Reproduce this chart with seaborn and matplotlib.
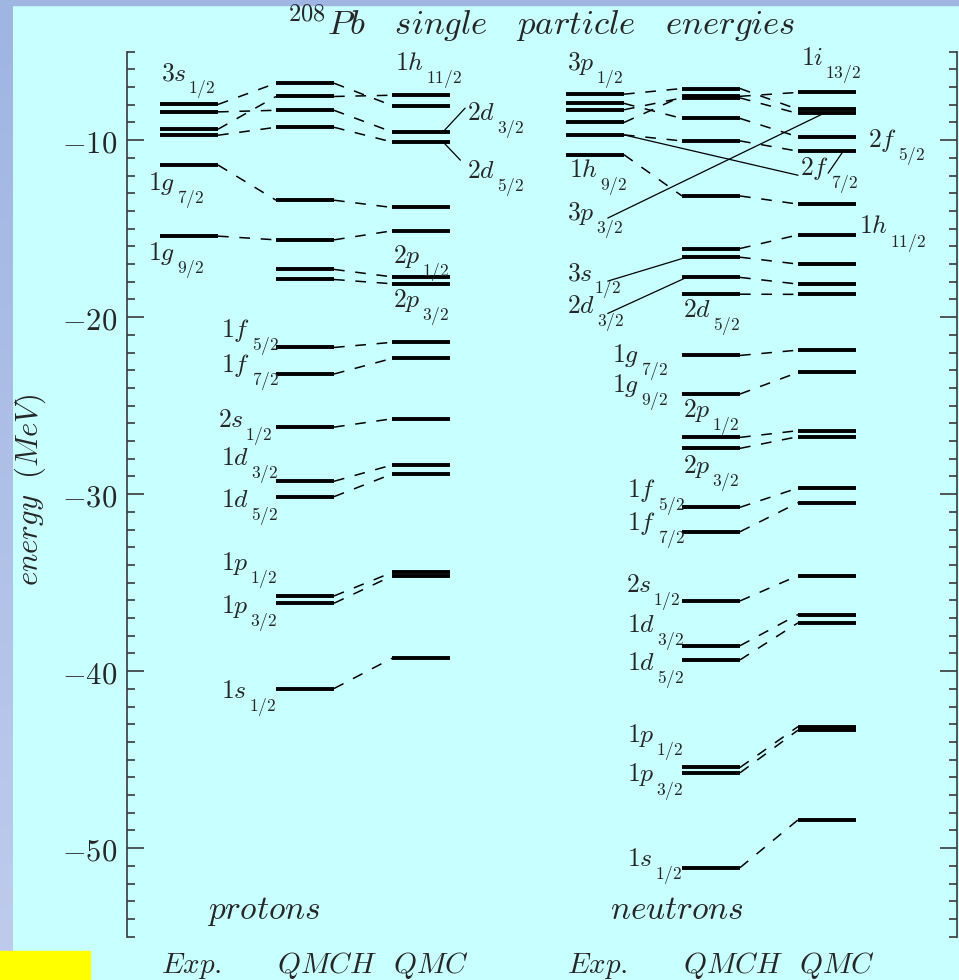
import numpy as np
import pandas as pd
import matplotlib
matplotlib.use("Agg")
import matplotlib.pyplot as plt
import seaborn as sns
from matplotlib.patches import Rectangle, Arc
from matplotlib.ticker import MultipleLocator, FuncFormatter

nan = np.nan

# ---------------------------------------------------------------- data (MeV)
methods = ["Exp.", "QMCH", "QMC"]

proton_orbitals = ["3s1/2", "2d3/2", "1h11/2", "2d5/2", "1g7/2", "1g9/2",
                   "2p1/2", "2p3/2", "1f5/2", "1f7/2", "2s1/2", "1d3/2",
                   "1d5/2", "1p1/2", "1p3/2", "1s1/2"]
proton_exp = [-7.98, -8.40, -9.38, -9.72, -11.40, -15.42,
              nan, nan, nan, nan, nan, nan, nan, nan, nan, nan]
proton_qmch = [-6.78, -8.31, -7.53, -9.27, -13.39, -15.63,
               -17.30, -17.87, -21.71, -23.21, -26.21, -29.27,
               -30.14, -35.75, -36.16, -40.98]
proton_qmc = [-8.04, -9.53, -7.46, -10.10, -13.80, -15.12,
              -17.72, -18.11, -21.42, -22.33, -25.74, -28.35,
              -28.86, -34.42, -34.62, -39.27]

neutron_orbitals = ["3p1/2", "2f5/2", "3p3/2", "1i13/2", "2f7/2", "1h9/2",
                    "1h11/2", "3s1/2", "2d3/2", "2d5/2", "1g7/2", "1g9/2",
                    "2p1/2", "2p3/2", "1f5/2", "1f7/2", "2s1/2", "1d3/2",
                    "1d5/2", "1p1/2", "1p3/2", "1s1/2"]
neutron_exp = [-7.40, -7.92, -8.28, -9.00, -9.70, -10.82,
               nan, nan, nan, nan, nan, nan, nan, nan, nan, nan,
               nan, nan, nan, nan, nan, nan]
neutron_qmch = [-7.08, -8.77, -7.61, -7.52, -10.04, -13.15,
                -16.12, -16.61, -17.75, -18.70, -22.16, -24.34,
                -26.79, -27.41, -30.74, -32.12, -36.03, -38.56,
                -39.36, -45.44, -45.74, -51.10]
neutron_qmc = [-8.26, -9.81, -8.49, -7.30, -10.62, -13.61,
               -15.35, -17.00, -18.13, -18.71, -21.86, -23.12,
               -26.41, -26.75, -29.65, -30.48, -34.60, -36.80,
               -37.27, -43.13, -43.33, -48.40]

# ---------------------------------------------------------------- layout
COL_STEP = 1.0          # distance between method columns
BAR_LEN = 0.5           # length of a level bar
NUCLEUS_OFFSET = {"protons": 0.0, "neutrons": 3.5}

# label anchors: (left x, baseline energy) of the orbital name
proton_label_xy = {
    "3s1/2": (0.01, -6.61), "1g7/2": (-0.10, -12.82), "1g9/2": (-0.10, -16.78),
    "1h11/2": (2.03, -6.05), "2d3/2": (2.65, -8.87), "2d5/2": (2.65, -12.15),
    "2p1/2": (2.01, -16.95), "2p3/2": (2.01, -19.43),
    "1f5/2": (0.53, -21.11), "1f7/2": (0.53, -23.08), "2s1/2": (0.50, -26.19),
    "1d3/2": (0.53, -28.35), "1d5/2": (0.53, -30.71), "1p1/2": (0.53, -34.28),
    "1p3/2": (0.53, -36.73), "1s1/2": (0.53, -41.52),
}
neutron_label_xy = {
    "3p1/2": (3.51, -6.05), "1h9/2": (3.53, -12.09), "3p3/2": (3.51, -14.52),
    "3s1/2": (3.51, -17.91), "2d3/2": (3.51, -19.77), "2d5/2": (4.51, -19.99),
    "1g7/2": (3.90, -22.52), "1g9/2": (3.90, -24.21),
    "2p1/2": (4.51, -25.62), "2p3/2": (4.51, -28.82),
    "1f5/2": (4.03, -30.14), "1f7/2": (4.03, -32.02), "2s1/2": (4.02, -35.50),
    "1d3/2": (4.03, -37.76), "1d5/2": (4.03, -39.93), "1p1/2": (4.03, -43.98),
    "1p3/2": (4.03, -46.23), "1s1/2": (4.03, -51.03),
    "1i13/2": (5.53, -5.77), "2f5/2": (6.10, -10.38), "2f7/2": (5.52, -11.98),
    "1h11/2": (6.03, -15.27),
}

# ---------------------------------------------------------------- tables
nuclei = {
    "protons": (proton_orbitals, [proton_exp, proton_qmch, proton_qmc]),
    "neutrons": (neutron_orbitals, [neutron_exp, neutron_qmch, neutron_qmc]),
}

bar_rows, link_rows = [], []
for nuc, (orbs, series) in nuclei.items():
    off = NUCLEUS_OFFSET[nuc]
    for j, orb in enumerate(orbs):
        for k, vals in enumerate(series):
            e = vals[j]
            if np.isnan(e):
                continue
            x0 = off + k * COL_STEP
            uid = f"{nuc}-{orb}-{k}"
            bar_rows += [(uid, x0, e), (uid, x0 + BAR_LEN, e)]
            if k + 1 < len(series) and not np.isnan(series[k + 1][j]):
                lid = f"{nuc}-{orb}-{k}-link"
                link_rows += [(lid, x0 + BAR_LEN, e),
                              (lid, x0 + COL_STEP, series[k + 1][j])]

bars = pd.DataFrame(bar_rows, columns=["uid", "x", "E"])
links = pd.DataFrame(link_rows, columns=["uid", "x", "E"])

p_qmc = dict(zip(proton_orbitals, proton_qmc))
n_exp = dict(zip(neutron_orbitals, neutron_exp))
n_qmch = dict(zip(neutron_orbitals, neutron_qmch))
n_qmc = dict(zip(neutron_orbitals, neutron_qmc))

# thin solid pointers from labels to their levels
pointer_rows = [
    ("p2d3", 2.44, p_qmc["2d3/2"]), ("p2d3", 2.63, -8.19),
    ("p2d5", 2.44, p_qmc["2d5/2"]), ("p2d5", 2.59, -11.13),
    ("n3p3", 3.86, -14.40), ("n3p3", 5.72, n_qmc["3p3/2"]),
    ("n2f7a", 4.00, n_exp["2f7/2"]), ("n2f7a", 5.50, -11.98),
    ("n2f7b", 5.76, -11.86), ("n2f7b", 5.89, n_qmc["2f7/2"]),
    ("n3s1", 3.86, -17.96), ("n3s1", 4.54, n_qmch["3s1/2"]),
    ("n2d3", 3.86, -19.79), ("n2d3", 4.54, n_qmch["2d3/2"]),
]
pointers = pd.DataFrame(pointer_rows, columns=["uid", "x", "E"])

# ---------------------------------------------------------------- figure
sns.set_style("ticks")
plt.rcParams["mathtext.fontset"] = "cm"
plt.rcParams["font.family"] = ["DejaVu Serif"]

W, H = 959, 980
fig = plt.figure(figsize=(W / 100, H / 100), dpi=100)

# page background: cyan sheet, blue frame strips, yellow corner tag
bg = fig.add_axes([0, 0, 1, 1], zorder=-10)
bg.axis("off")
bg.add_patch(Rectangle((0, 0), W, H, color="#c8ffff", zorder=0))
bg.add_patch(Rectangle((0, 0), W, 5, color="#9fb5e2", zorder=1))
top_c = np.array([159, 181, 226]) / 255
bot_c = np.array([190, 203, 236]) / 255
t = np.linspace(0, 1, 256)[:, None, None]
grad = top_c * (1 - t) + bot_c * t
bg.imshow(grad, extent=(0, 13, 951, 5), aspect="auto",
          interpolation="bilinear", zorder=2)
bg.add_patch(Rectangle((0, 951), 90, 29, color="#ffff00", zorder=3))
bg.add_patch(Arc((30, 990), 30, 26, theta1=20, theta2=160,
                 color="black", lw=2.2, zorder=4))
bg.set_xlim(0, W)
bg.set_ylim(H, 0)

# data axes
ax_left, ax_right, ax_top, ax_bot = 127, 956.7, 51.7, 936.7
ax = fig.add_axes([ax_left / W, (H - ax_bot) / H,
                   (ax_right - ax_left) / W, (ax_bot - ax_top) / H])
ax.set_facecolor("none")

sns.lineplot(data=bars, x="x", y="E", units="uid", estimator=None,
             color="black", lw=2.8, solid_capstyle="butt", ax=ax, legend=False)
sns.lineplot(data=links, x="x", y="E", units="uid", estimator=None,
             color="black", lw=1.1, linestyle=(0, (7, 7)), ax=ax, legend=False)
sns.lineplot(data=pointers, x="x", y="E", units="uid", estimator=None,
             sort=False, color="black", lw=0.9, ax=ax, legend=False)

px_to_x = lambda px: (px - 160) / 116
ax.set_xlim(px_to_x(ax_left), px_to_x(ax_right))
ax.set_ylim(-55, -5)

for s in ("top", "bottom"):
    ax.spines[s].set_visible(False)
for s in ("left", "right"):
    ax.spines[s].set_color("#3a3a3a")
    ax.spines[s].set_linewidth(1.2)
ax.xaxis.set_visible(False)
ax.yaxis.set_major_locator(MultipleLocator(10))
ax.yaxis.set_minor_locator(MultipleLocator(1))
ax.yaxis.set_major_formatter(FuncFormatter(lambda v, p: rf"${int(round(v))}$"))
ax.tick_params(axis="y", which="both", direction="in", left=True, right=True,
               color="#3a3a3a", width=1.2, labelsize=22, pad=7)
ax.tick_params(axis="y", which="major", length=12)
ax.tick_params(axis="y", which="minor", length=6)
ax.set_xlabel("")
ax.set_ylabel("")


def orbital_label(name, x, y, size=18.5, sub_size=12.5):
    main, sub = name[:2], name[2:]
    t = ax.text(x, y, rf"${main}$", fontsize=size, ha="left", va="baseline")
    ax.annotate(rf"${sub}$", xy=(1, y), xycoords=(t, "data"),
                xytext=(1, -9.4), textcoords="offset points",
                fontsize=sub_size, ha="left", va="baseline")


for name, (x, y) in proton_label_xy.items():
    orbital_label(name, x, y)
for name, (x, y) in neutron_label_xy.items():
    orbital_label(name, x, y)

# nucleus names and method names
ax.text(px_to_x(207), -53.99, r"$protons$", fontsize=24, ha="left", va="baseline")
ax.text(px_to_x(610), -53.99, r"$neutrons$", fontsize=24, ha="left", va="baseline")
for nuc, off in NUCLEUS_OFFSET.items():
    for k, m in enumerate(methods):
        ax.text(off + k * COL_STEP + 0.01, -57.03, rf"${m}$", fontsize=21,
                ha="left", va="baseline", clip_on=False)

fig.text(541 / W, (H - 35) / H,
         r"$^{208}Pb\ \ \ single\ \ \ particle\ \ \ energies$",
         fontsize=25, ha="center", va="baseline")
fig.text(30 / W, (H - 490) / H, r"$energy\ \ (MeV)$", fontsize=22,
         rotation=90, ha="center", va="center")

fig.savefig("out.png", dpi=100, facecolor="#c8ffff")
